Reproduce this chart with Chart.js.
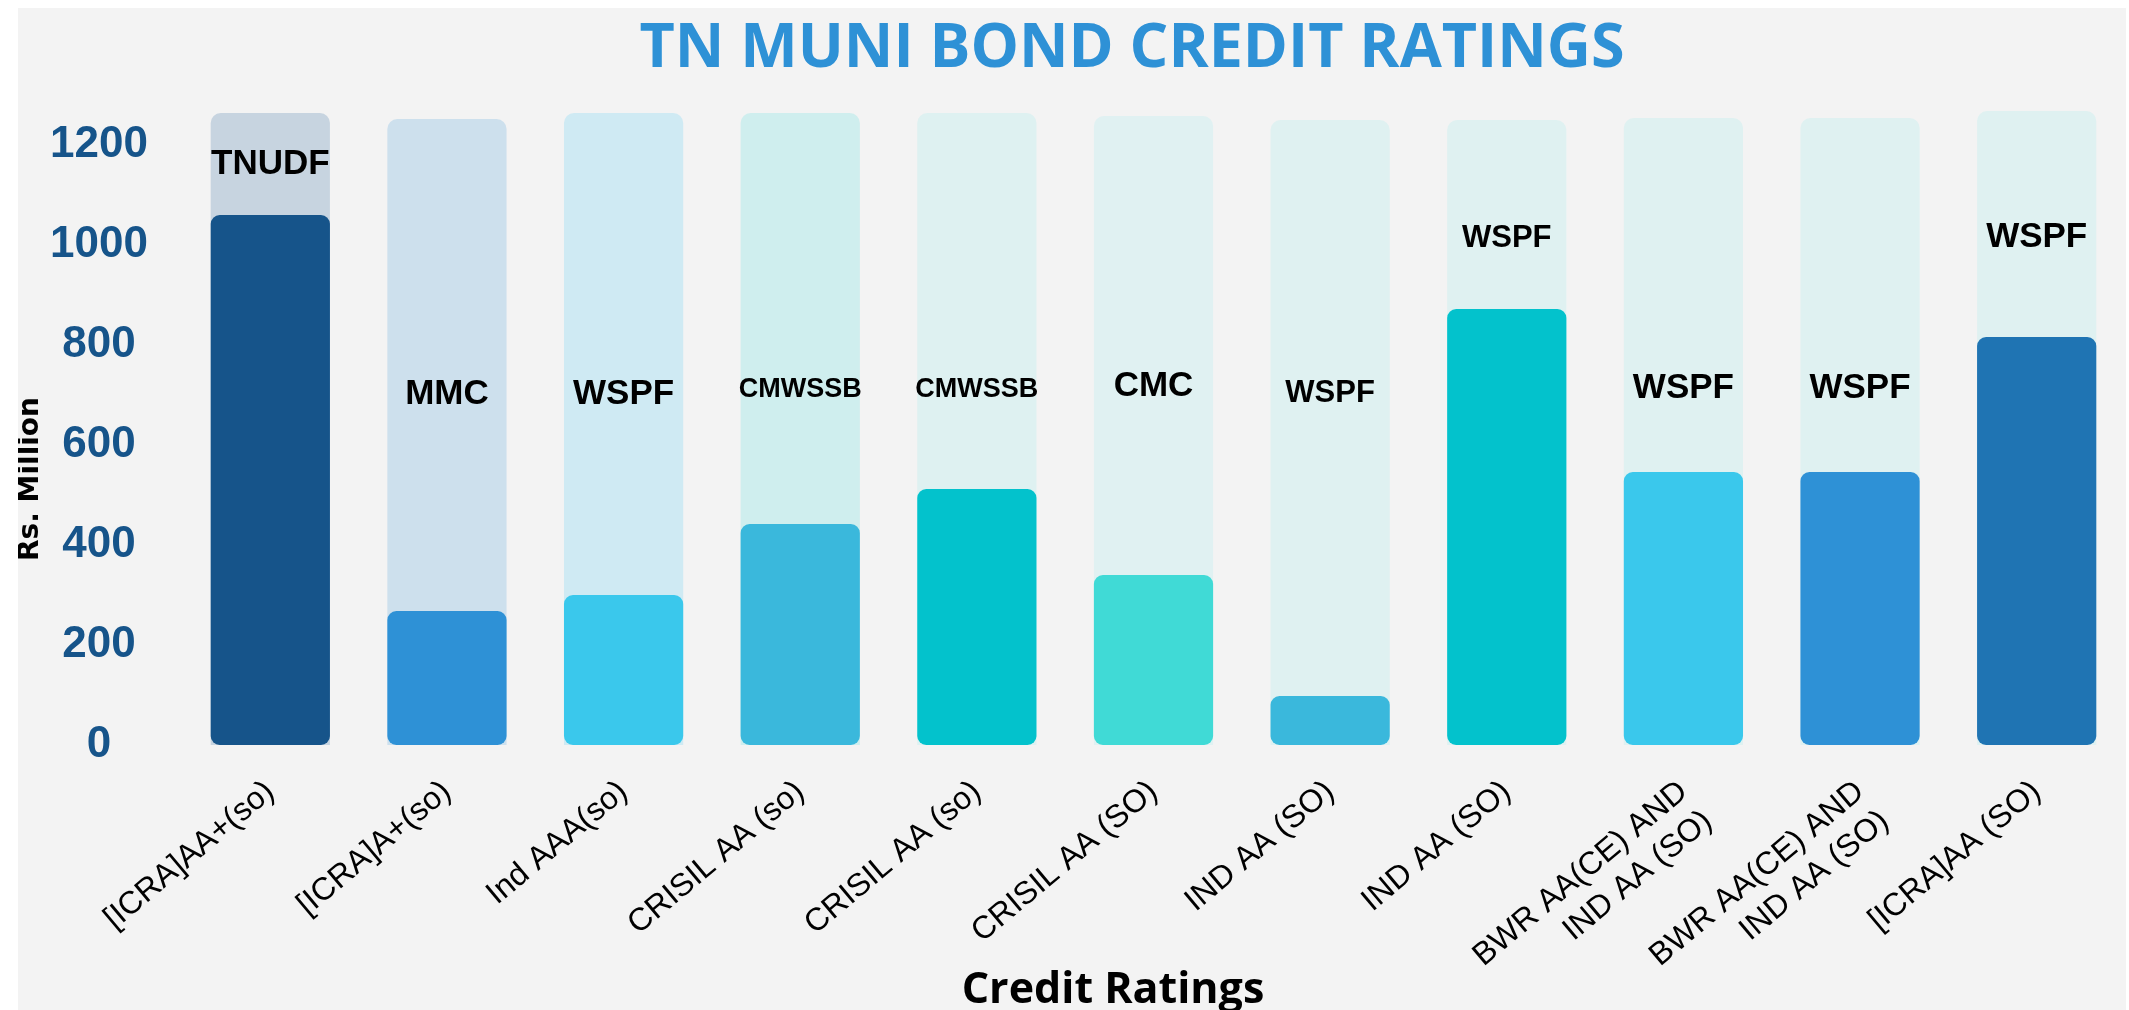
<!DOCTYPE html>
<html>
<head>
<meta charset="utf-8">
<title>TN Muni Bond Credit Ratings</title>
<script src="https://cdn.jsdelivr.net/npm/chart.js@4.4.1/dist/chart.umd.min.js"></script>
<style>
  html, body { margin: 0; padding: 0; background: #ffffff; overflow: hidden; }
  #panel { position: absolute; left: 18px; top: 8px; width: 2108px; height: 1002px; background: #f3f3f3; }
</style>
</head>
<body>
<div id="panel"><canvas id="chart"></canvas></div>
<script>
// data (Rs. Million)
const ratings = [
    "[ICRA]AA+(so)", "[ICRA]A+(so)", "Ind AAA(so)", "CRISIL AA (so)", "CRISIL AA (so)",
    "CRISIL AA (SO)", "IND AA (SO)", "IND AA (SO)",
    ["BWR AA(CE) AND", "IND AA (SO)"], ["BWR AA(CE) AND", "IND AA (SO)"], "[ICRA]AA (SO)"
];
const issuers = ["TNUDF", "MMC", "WSPF", "CMWSSB", "CMWSSB", "CMC", "WSPF", "WSPF", "WSPF", "WSPF", "WSPF"];
const amounts = [1060, 268, 300, 442, 512, 340, 98, 872, 546, 546, 816];
const trackValues = [1264, 1252, 1264, 1264, 1264, 1258, 1250, 1250, 1254, 1254, 1268];
const issuerLabelAt = [1162, 702, 702, 710, 710, 718, 704, 1014, 714, 714, 1016];
const yTicks = [0, 200, 400, 600, 800, 1000, 1200];

// styles
const barColors = ["#16548a", "#2e91d6", "#3ac8ec", "#3ab8dc", "#03c2cc", "#40dad6",
                   "#3ab8dc", "#03c2cc", "#3ac8ec", "#2e91d6", "#1f74b3"];
const trackColors = ["#c7d4e0", "#cde0ed", "#cfeaf3", "#cfeeee", "#def1f1", "#e0f1f2",
                     "#dff1f1", "#dff1f1", "#dff1f1", "#dff1f1", "#dff1f1"];
const issuerFontSize = [35, 35, 35, 27, 27, 35, 31, 31, 35, 35, 35];

const textPlugin = {
    id: 'textPlugin',
    afterDatasetsDraw(chart) {
        const ctx = chart.ctx;
        const xs = chart.scales.x, ys = chart.scales.y;
        ctx.save();
        ctx.fillStyle = "#000000";
        ctx.textAlign = "center";
        ctx.textBaseline = "middle";
        issuers.forEach((name, i) => {
            ctx.font = "bold " + issuerFontSize[i] + "px 'Liberation Sans', Arial, sans-serif";
            ctx.fillText(name, xs.getPixelForValue(i), ys.getPixelForValue(issuerLabelAt[i]));
        });
        ctx.restore();
    },
    afterDraw(chart) {
        const ctx = chart.ctx;
        ctx.save();
        ctx.textAlign = "center";

        // main title
        ctx.fillStyle = "#2e91d6";
        ctx.font = "bold 61px 'Open Sans', sans-serif";
        ctx.textBaseline = "alphabetic";
        ctx.fillText("TN MUNI BOND CREDIT RATINGS", 1114, 59);

        // x axis title
        ctx.fillStyle = "#000000";
        ctx.font = "bold 43px 'Open Sans', sans-serif";
        ctx.fillText("Credit Ratings", 1095, 995);

        // y axis title
        ctx.translate(13, 471);
        ctx.rotate(-Math.PI / 2);
        ctx.textBaseline = "middle";
        ctx.font = "bold 28px 'DejaVu Sans', sans-serif";
        ctx.fillText("Rs. Million", 0, 0);
        ctx.restore();
    }
};

new Chart(document.getElementById("chart"), {
    type: 'bar',
    data: {
        labels: ratings,
        datasets: [
            {
                label: 'Rs. Million',
                data: amounts,
                backgroundColor: barColors,
                borderRadius: 9,
                borderSkipped: false,
                grouped: false,
                order: 0
            },
            {
                label: 'track',
                data: trackValues,
                backgroundColor: trackColors,
                borderRadius: 10,
                borderSkipped: 'bottom',
                grouped: false,
                order: 1
            }
        ]
    },
    options: {
        responsive: true,
        maintainAspectRatio: false,
        animation: false,
        layout: { padding: { top: 87, right: 1, bottom: 0, left: 0 } },
        datasets: { bar: { categoryPercentage: 1, barPercentage: 0.675 } },
        plugins: {
            legend: { display: false },
            tooltip: { enabled: false },
            title: { display: false }
        },
        scales: {
            x: {
                grid: { display: false, drawTicks: false },
                border: { display: false },
                ticks: {
                    autoSkip: false,
                    minRotation: 40,
                    maxRotation: 40,
                    padding: 28,
                    color: "#000000",
                    font: { family: "'Liberation Sans', Arial, sans-serif", size: 32 }
                },
                afterFit: s => { s.height = 265; }
            },
            y: {
                min: 0,
                max: 1300,
                grid: { display: false, drawTicks: false },
                border: { display: false },
                afterBuildTicks: s => { s.ticks = yTicks.map(v => ({ value: v })); },
                ticks: {
                    crossAlign: 'center',
                    padding: 34,
                    color: "#16548a",
                    font: { family: "'Liberation Sans', Arial, sans-serif", size: 44, weight: 'bold' },
                    callback: v => String(v)
                },
                afterFit: s => { s.width = 164; }
            }
        }
    },
    plugins: [textPlugin]
});
</script>
</body>
</html>
